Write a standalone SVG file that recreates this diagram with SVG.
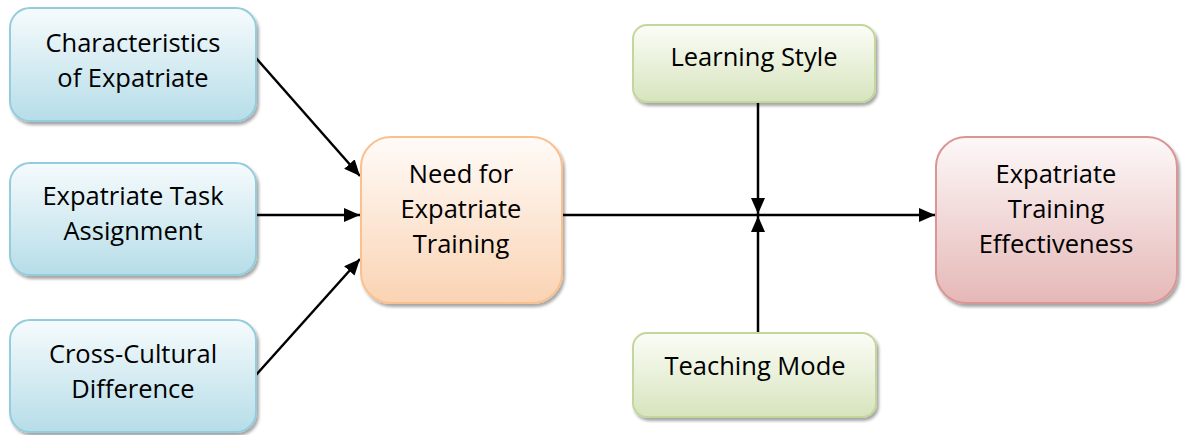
<svg xmlns="http://www.w3.org/2000/svg" width="1182" height="435" viewBox="0 0 1182 435">
<style>
text{font-family:"Open Sans","Noto Sans","Liberation Sans",sans-serif;font-size:25.5px;fill:#000;text-anchor:middle}
.n{stroke-width:2;filter:url(#sh)}
.blue{fill:url(#gb);stroke:#93cddd}
.org{fill:url(#go);stroke:#fac08f}
.pink{fill:url(#gp);stroke:#d99694}
.grn{fill:url(#gg);stroke:#c3d69b}
.c{stroke:#000;stroke-width:2.5;fill:none;marker-end:url(#ah)}
</style>
<defs>
<filter id="sh" x="-10%" y="-10%" width="130%" height="130%">
<feDropShadow dx="2" dy="3" stdDeviation="1.5" flood-color="#000" flood-opacity="0.35"/>
</filter>
<linearGradient id="gb" x1="0" y1="0" x2="0" y2="1"><stop offset="0" stop-color="#f6fbfd"/><stop offset="1" stop-color="#b6dde8"/></linearGradient>
<linearGradient id="go" x1="0" y1="0" x2="0" y2="1"><stop offset="0" stop-color="#fffbf8"/><stop offset="1" stop-color="#fad3b3"/></linearGradient>
<linearGradient id="gp" x1="0" y1="0" x2="0" y2="1"><stop offset="0" stop-color="#fdf8f8"/><stop offset="1" stop-color="#e5b8b7"/></linearGradient>
<linearGradient id="gg" x1="0" y1="0" x2="0" y2="1"><stop offset="0" stop-color="#fbfdf7"/><stop offset="1" stop-color="#d7e4bd"/></linearGradient>
<marker id="ah" viewBox="0 0 16 14" refX="16" refY="7" markerWidth="16" markerHeight="14" markerUnits="userSpaceOnUse" orient="auto">
<path d="M0,0 L16,7 L0,14 z" fill="#000"/>
</marker>
</defs>
<g id="connectors">
<line class="c" x1="256" y1="58" x2="360" y2="176"/>
<line class="c" x1="256" y1="215" x2="360" y2="215"/>
<line class="c" x1="256" y1="375" x2="360" y2="259"/>
<line class="c" x1="562" y1="215" x2="935" y2="215"/>
<line class="c" x1="758" y1="102" x2="758" y2="214"/>
<line class="c" x1="758" y1="333" x2="758" y2="216"/>
</g>
<g id="n1"><rect class="n blue" x="10" y="8" width="246" height="113" rx="20"/><text x="133" y="52">Characteristics</text><text x="133" y="87">of Expatriate</text></g>
<g id="n2"><rect class="n blue" x="10" y="163" width="246" height="112" rx="20"/><text x="133" y="205">Expatriate Task</text><text x="133" y="240">Assignment</text></g>
<g id="n3"><rect class="n blue" x="10" y="320" width="246" height="112" rx="20"/><text x="133" y="363">Cross-Cultural</text><text x="133" y="398">Difference</text></g>
<g id="n4"><rect class="n org" x="361" y="137" width="201" height="166" rx="30"/><text x="461" y="183">Need for</text><text x="461" y="218">Expatriate</text><text x="461" y="253">Training</text></g>
<g id="n5"><rect class="n grn" x="633" y="25" width="242" height="77" rx="14"/><text x="754" y="66">Learning Style</text></g>
<g id="n6"><rect class="n grn" x="633" y="333" width="243" height="84" rx="14"/><text x="755" y="375">Teaching Mode</text></g>
<g id="n7"><rect class="n pink" x="936" y="137" width="241" height="166" rx="30"/><text x="1056" y="183">Expatriate</text><text x="1056" y="218">Training</text><text x="1056" y="253">Effectiveness</text></g>
</svg>
